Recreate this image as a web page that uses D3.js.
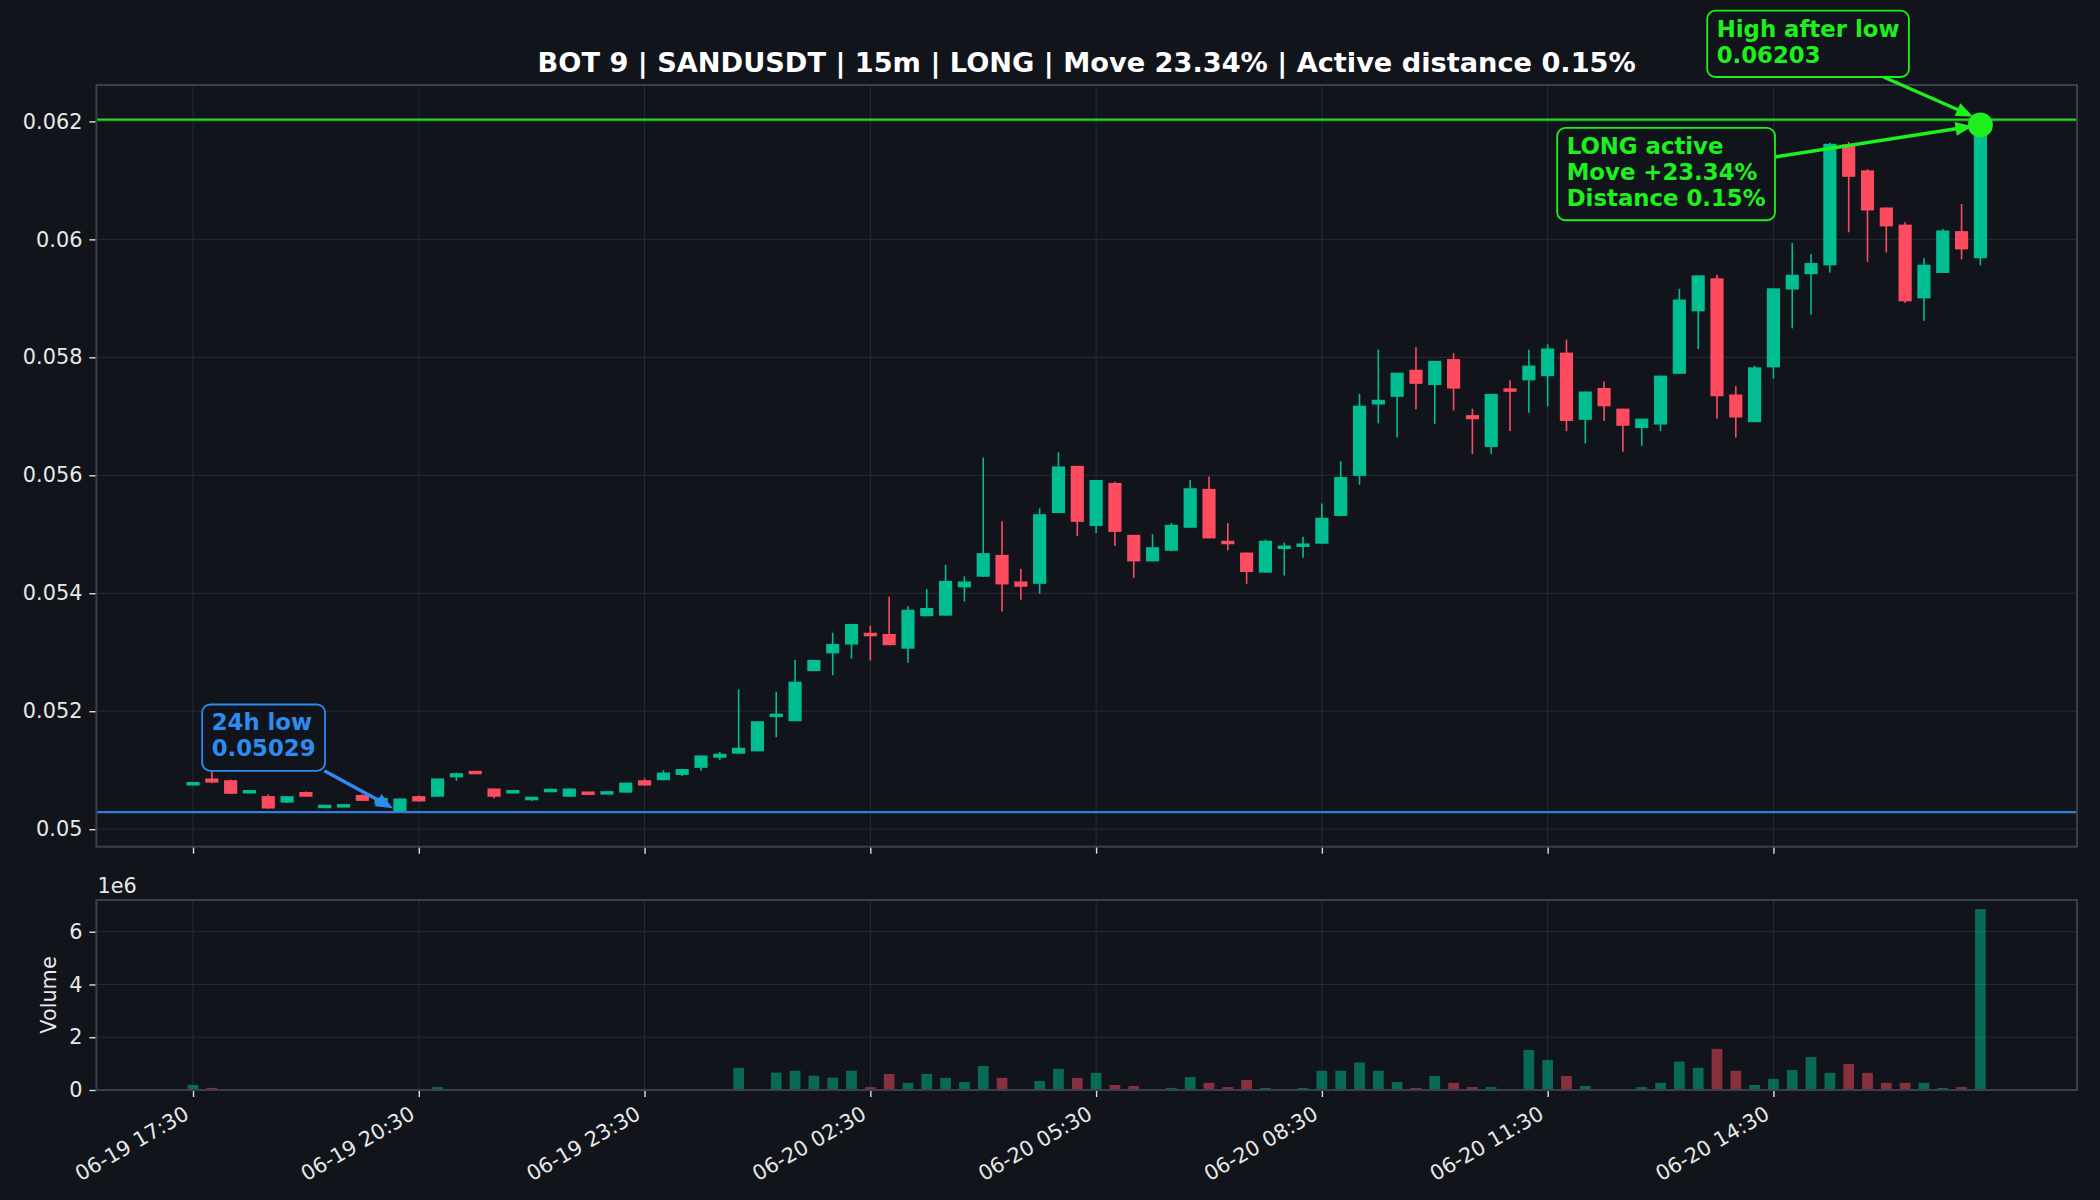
<!DOCTYPE html>
<html>
<head>
<meta charset="utf-8">
<script src="https://cdnjs.cloudflare.com/ajax/libs/d3/7.8.5/d3.min.js"></script>
<style>
  body { margin: 0; background: #11141b; }
  svg text { font-family: "DejaVu Sans", sans-serif; }
</style>
</head>
<body>
<svg id="chart" width="2100" height="1200"></svg>
<script>
// 15m candles, 06-19 17:30 -> 06-20 17:15
const opens = [0.05076,0.05086,0.05083,0.05063,0.05056,0.05045,0.05063,0.05038,0.05039,0.05058,
  0.05042,0.05030,0.05056,0.05055,0.05088,0.05097,0.05069,0.05063,0.05049,0.05065,
  0.05055,0.05062,0.05061,0.05062,0.05083,0.05083,0.05092,0.05104,0.05121,0.05128,
  0.05132,0.05192,0.05183,0.05268,0.05298,0.05313,0.05331,0.05331,0.05306,0.05361,
  0.05362,0.05410,0.05428,0.05465,0.05420,0.05416,0.05536,0.05616,0.05514,0.05587,
  0.05499,0.05454,0.05472,0.05511,0.05577,0.05487,0.05469,0.05435,0.05477,0.05479,
  0.05484,0.05531,0.05599,0.05720,0.05733,0.05779,0.05753,0.05797,0.05702,0.05648,
  0.05747,0.05761,0.05768,0.05808,0.05694,0.05748,0.05713,0.05680,0.05686,0.05772,
  0.05878,0.05934,0.05737,0.05690,0.05783,0.05915,0.05941,0.05956,0.06161,0.06117,
  0.06054,0.06025,0.05900,0.05943,0.06014,0.05968];
const highs = [0.05078,0.05099,0.05084,0.05064,0.05059,0.05056,0.05064,0.05039,0.05040,0.05059,
  0.05053,0.05052,0.05057,0.05086,0.05096,0.05097,0.05069,0.05064,0.05055,0.05069,
  0.05069,0.05062,0.05062,0.05079,0.05086,0.05100,0.05102,0.05125,0.05131,0.05237,
  0.05183,0.05233,0.05287,0.05287,0.05333,0.05348,0.05345,0.05394,0.05378,0.05407,
  0.05448,0.05429,0.05630,0.05522,0.05441,0.05544,0.05639,0.05616,0.05592,0.05589,
  0.05499,0.05500,0.05519,0.05592,0.05598,0.05519,0.05469,0.05491,0.05486,0.05496,
  0.05552,0.05624,0.05738,0.05813,0.05774,0.05817,0.05794,0.05807,0.05713,0.05738,
  0.05761,0.05813,0.05822,0.05830,0.05742,0.05759,0.05713,0.05696,0.05769,0.05916,
  0.05939,0.05940,0.05751,0.05786,0.05917,0.05994,0.05975,0.06164,0.06165,0.06119,
  0.06054,0.06029,0.05968,0.06018,0.06060,0.06203];
const lows = [0.05076,0.05078,0.05060,0.05062,0.05035,0.05045,0.05055,0.05038,0.05039,0.05048,
  0.05041,0.05029,0.05047,0.05055,0.05082,0.05095,0.05052,0.05063,0.05048,0.05065,
  0.05055,0.05060,0.05061,0.05062,0.05074,0.05083,0.05090,0.05099,0.05117,0.05128,
  0.05132,0.05156,0.05183,0.05268,0.05261,0.05289,0.05286,0.05312,0.05282,0.05361,
  0.05362,0.05386,0.05428,0.05369,0.05389,0.05399,0.05536,0.05497,0.05502,0.05480,
  0.05426,0.05454,0.05471,0.05511,0.05493,0.05473,0.05416,0.05435,0.05430,0.05460,
  0.05484,0.05531,0.05584,0.05688,0.05664,0.05712,0.05687,0.05710,0.05636,0.05636,
  0.05675,0.05706,0.05717,0.05675,0.05654,0.05692,0.05640,0.05650,0.05675,0.05772,
  0.05814,0.05696,0.05664,0.05690,0.05764,0.05849,0.05872,0.05944,0.06012,0.05962,
  0.05978,0.05892,0.05862,0.05943,0.05966,0.05956];
const closes = [0.05078,0.05079,0.05060,0.05064,0.05035,0.05056,0.05055,0.05039,0.05040,0.05048,
  0.05053,0.05052,0.05047,0.05086,0.05095,0.05095,0.05055,0.05064,0.05055,0.05066,
  0.05069,0.05060,0.05062,0.05079,0.05074,0.05096,0.05102,0.05125,0.05128,0.05138,
  0.05183,0.05194,0.05250,0.05287,0.05314,0.05348,0.05329,0.05312,0.05372,0.05375,
  0.05421,0.05420,0.05468,0.05415,0.05411,0.05534,0.05615,0.05521,0.05592,0.05504,
  0.05454,0.05478,0.05516,0.05578,0.05493,0.05485,0.05436,0.05489,0.05479,0.05484,
  0.05528,0.05597,0.05718,0.05728,0.05774,0.05755,0.05794,0.05747,0.05695,0.05738,
  0.05742,0.05786,0.05815,0.05692,0.05742,0.05717,0.05684,0.05696,0.05769,0.05898,
  0.05939,0.05734,0.05698,0.05783,0.05917,0.05940,0.05960,0.06162,0.06106,0.06049,
  0.06022,0.05895,0.05957,0.06015,0.05983,0.06194];
const volumes = [190000,80000,20000,10000,20000,10000,10000,10000,10000,10000,
  10000,20000,10000,110000,20000,10000,10000,10000,10000,10000,
  10000,10000,10000,10000,10000,10000,10000,10000,10000,840000,
  10000,660000,730000,540000,470000,730000,110000,610000,270000,610000,
  460000,300000,910000,460000,20000,340000,800000,460000,650000,190000,
  150000,20000,80000,490000,270000,110000,380000,80000,20000,80000,
  730000,730000,1040000,730000,300000,80000,530000,270000,110000,110000,
  20000,1520000,1140000,530000,150000,20000,20000,110000,270000,1080000,
  840000,1560000,730000,190000,420000,760000,1250000,650000,990000,650000,
  270000,270000,270000,80000,110000,6860000];

const timeTickIndex = [0,12,24,36,48,60,72,84];
const timeTickLabels = ["06-19 17:30","06-19 20:30","06-19 23:30","06-20 02:30",
  "06-20 05:30","06-20 08:30","06-20 11:30","06-20 14:30"];
const priceTicks = [0.05,0.052,0.054,0.056,0.058,0.06,0.062];
const priceTickLabels = ["0.05","0.052","0.054","0.056","0.058","0.06","0.062"];
const volTicks = [0,2e6,4e6,6e6];
const volTickLabels = ["0","2","4","6"];

const lowIndex = 11, lowValue = 0.05029;
const highIndex = 95, highValue = 0.06203;
const title = "BOT 9 | SANDUSDT | 15m | LONG | Move 23.34% | Active distance 0.15%";

const upColor = "#00be91", downColor = "#ff4b5f";
const lime = "#1ef01e", blue = "#2d8cf0";
const bg = "#11141b";

const svg = d3.select("#chart");
svg.append("rect").attr("width", 2100).attr("height", 1200).attr("fill", bg);

const L = 96.4, R = 2077;
const mainTop = 85, mainBot = 846.7, volTop = 900, volBot = 1090;
const n = opens.length;
const bodyW = 0.7;
const span = n - 1 + bodyW;

const x = d3.scaleLinear()
  .domain([-bodyW / 2 - 0.05 * span, n - 1 + bodyW / 2 + 0.05 * span])
  .range([L, R]);
const lo = d3.min(lows), hi = d3.max(highs), pad = 0.05 * (hi - lo);
const y = d3.scaleLinear().domain([lo - pad, hi + pad]).range([mainBot, mainTop]);
const yv = d3.scaleLinear().domain([0, d3.max(volumes) * 1.05]).range([volBot, volTop]);

const px = x(1) - x(0);
const idx = d3.range(n);
const up = i => closes[i] >= opens[i];

// grids
function grid(top, bot, yScale, yt) {
  const g = svg.append("g").attr("stroke", "#262b36").attr("stroke-width", 1);
  g.selectAll(".gx").data(timeTickIndex).enter().append("line")
    .attr("x1", d => x(d)).attr("x2", d => x(d)).attr("y1", top).attr("y2", bot);
  g.selectAll(".gy").data(yt).enter().append("line")
    .attr("x1", L).attr("x2", R).attr("y1", d => yScale(d)).attr("y2", d => yScale(d));
}
grid(mainTop, mainBot, y, priceTicks);
grid(volTop, volBot, yv, volTicks);

// candles
const candles = svg.append("g");
candles.selectAll(".wick").data(idx).enter().append("line")
  .attr("x1", i => x(i)).attr("x2", i => x(i))
  .attr("y1", i => y(highs[i])).attr("y2", i => y(lows[i]))
  .attr("stroke", i => up(i) ? upColor : downColor).attr("stroke-width", 1.6);
candles.selectAll(".body").data(idx).enter().append("rect")
  .attr("x", i => x(i - bodyW / 2)).attr("width", bodyW * px)
  .attr("y", i => {
    const t = y(Math.max(opens[i], closes[i])), b = y(Math.min(opens[i], closes[i]));
    return b - t < 3.5 ? (t + b) / 2 - 1.75 : t;
  })
  .attr("height", i => Math.max(3.5, y(Math.min(opens[i], closes[i])) - y(Math.max(opens[i], closes[i]))))
  .attr("fill", i => up(i) ? upColor : downColor);

// volume bars
const volW = 0.57;
svg.append("g").selectAll("rect").data(idx).enter().append("rect")
  .attr("x", i => x(i - volW / 2)).attr("width", volW * px)
  .attr("y", i => yv(volumes[i])).attr("height", i => yv(0) - yv(volumes[i]))
  .attr("fill", i => up(i) ? upColor : downColor).attr("opacity", 0.5);

// level lines
svg.append("line").attr("x1", L).attr("x2", R)
  .attr("y1", y(highValue)).attr("y2", y(highValue))
  .attr("stroke", "#1fdc1f").attr("stroke-width", 2.4);
svg.append("line").attr("x1", L).attr("x2", R)
  .attr("y1", y(lowValue)).attr("y2", y(lowValue))
  .attr("stroke", "#2f80d8").attr("stroke-width", 2.4);

// axes
function styleAxis(g) {
  g.select(".domain").remove();
  g.selectAll(".tick line").attr("stroke", "#e0e0e0").attr("stroke-width", 1.4);
  g.selectAll(".tick text").attr("fill", "#e8e8e8").style("font-size", "20.8px")
    .style("font-family", "DejaVu Sans");
}
svg.append("g").attr("transform", `translate(${L},0)`)
  .call(d3.axisLeft(y).tickValues(priceTicks).tickFormat((d, i) => priceTickLabels[i]).tickSize(7).tickPadding(7))
  .call(styleAxis);
svg.append("g").attr("transform", `translate(0,${mainBot})`)
  .call(d3.axisBottom(x).tickValues(timeTickIndex).tickFormat("").tickSize(7))
  .call(styleAxis);
svg.append("g").attr("transform", `translate(${L},0)`)
  .call(d3.axisLeft(yv).tickValues(volTicks).tickFormat((d, i) => volTickLabels[i]).tickSize(7).tickPadding(7))
  .call(styleAxis);
const xb = svg.append("g").attr("transform", `translate(0,${volBot})`)
  .call(d3.axisBottom(x).tickValues(timeTickIndex).tickFormat((d, i) => timeTickLabels[i]).tickSize(7))
  .call(styleAxis);
xb.selectAll(".tick text")
  .attr("y", 0).attr("dy", 0).attr("text-anchor", "end")
  .attr("transform", "translate(-3,28) rotate(-30)");

// spines
[[mainTop, mainBot], [volTop, volBot]].forEach(([t, b]) => {
  svg.append("rect").attr("x", L).attr("y", t).attr("width", R - L).attr("height", b - t)
    .attr("fill", "none").attr("stroke", "#3a3f4a").attr("stroke-width", 2);
});

// texts
svg.append("text").attr("x", (L + R) / 2).attr("y", 72).attr("text-anchor", "middle")
  .attr("fill", "#ffffff").style("font-size", "27.2px").style("font-weight", "bold").text(title);
svg.append("text").attr("x", 97.5).attr("y", 893).attr("fill", "#e8e8e8")
  .style("font-size", "20.8px").text("1e6");
svg.append("text").attr("transform", `translate(56,${(volTop + volBot) / 2}) rotate(-90)`)
  .attr("text-anchor", "middle").attr("fill", "#e8e8e8").style("font-size", "20.8px").text("Volume");

// marker on last close
svg.append("circle").attr("cx", x(n - 1)).attr("cy", y(closes[n - 1])).attr("r", 12.5).attr("fill", lime);

// annotations
function annotate(lines, color, tx, ty, dx, dy) {
  const g = svg.append("g");
  const lh = 26;
  const left = tx + dx, base = ty + dy;
  const arrowG = g.append("g");
  const rect = g.append("rect");
  const texts = lines.map((s, k) => g.append("text").attr("x", left).attr("y", base + k * lh)
    .attr("fill", color).style("font-size", "22.8px").style("font-weight", "bold").text(s));
  const w = d3.max(texts, t => t.node().getComputedTextLength());
  const bx = left - 9.5, by = base - 26, bw = w + 19, bh = (lines.length - 1) * lh + 40.3;
  rect.attr("x", bx).attr("y", by).attr("width", bw).attr("height", bh).attr("rx", 8)
    .attr("fill", bg).attr("stroke", color).attr("stroke-width", 1.8);
  // arrow from box centre toward target, clipped to box edge
  const cx = bx + bw / 2, cy = by + bh / 2;
  const vx = tx - cx, vy = ty - cy;
  const t0 = Math.min((bw / 2) / Math.abs(vx), (bh / 2) / Math.abs(vy));
  const sx = cx + vx * t0, sy = cy + vy * t0;
  const len = Math.hypot(tx - sx, ty - sy);
  const ux = (tx - sx) / len, uy = (ty - sy) / len;
  const ex = tx - ux * 8, ey = ty - uy * 8;
  const hl = 17, hw = 7;
  arrowG.append("line").attr("x1", sx).attr("y1", sy).attr("x2", ex - ux * hl * 0.6).attr("y2", ey - uy * hl * 0.6)
    .attr("stroke", color).attr("stroke-width", 3.4);
  arrowG.append("path")
    .attr("d", `M${ex},${ey}L${ex - ux * hl - uy * hw},${ey - uy * hl + ux * hw}L${ex - ux * hl + uy * hw},${ey - uy * hl - ux * hw}Z`)
    .attr("fill", color);
}

annotate(["24h low", lowValue.toFixed(5)], blue, x(lowIndex), y(lowValue), -188.3, -81.6);
annotate(["High after low", highValue.toFixed(5)], lime, x(highIndex), y(highValue), -263.7, -82.9);
annotate(["LONG active", "Move +23.34%", "Distance 0.15%"], lime, x(n - 1), y(closes[n - 1]), -413.7, 29);
</script>
</body>
</html>
